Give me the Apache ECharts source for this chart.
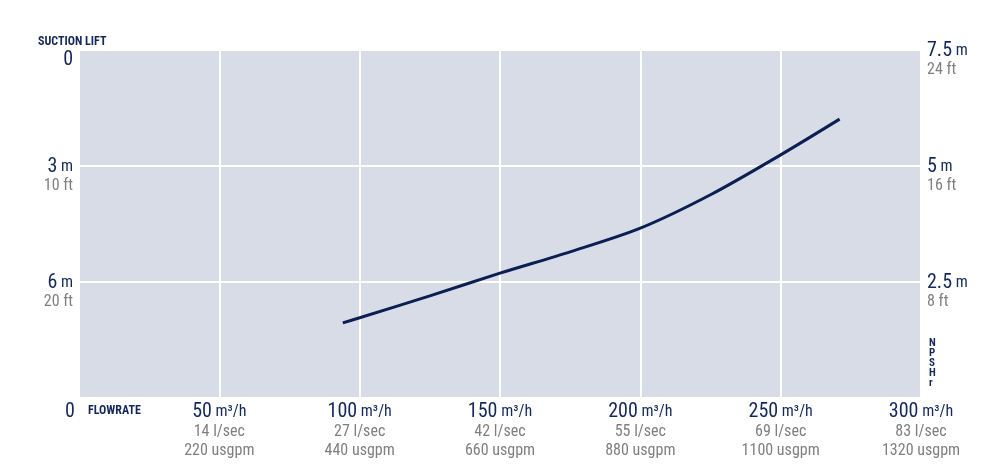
<!DOCTYPE html>
<html><head><meta charset="utf-8">
<script src="https://cdn.jsdelivr.net/npm/echarts@6/dist/echarts.min.js"></script>
<style>html,body{margin:0;padding:0;background:#fff}#c{width:1000px;height:469px}</style>
</head><body><div id="c"></div>
<script>
// Flowrate ticks (m3/h) and their equivalents
var flowTicks = [0, 50, 100, 150, 200, 250, 300];
var flowLsec = ['', '14 l/sec', '27 l/sec', '42 l/sec', '55 l/sec', '69 l/sec', '83 l/sec'];
var flowUsgpm = ['', '220 usgpm', '440 usgpm', '660 usgpm', '880 usgpm', '1100 usgpm', '1320 usgpm'];
// Suction lift (left, inverted) ticks
var liftTicks = [0, 3, 6, 9];
var liftM = ['0', '3', '6', ''];
var liftFt = ['', '10 ft', '20 ft', ''];
// NPSHr (right) ticks
var npshTicks = [0, 2.5, 5, 7.5];
var npshM = ['', '2.5', '5', '7.5'];
var npshFt = ['', '8 ft', '16 ft', '24 ft'];
// NPSHr curve: flowrate (m3/h) vs NPSHr (m)
var curveFlow = [94, 100, 125, 150, 175, 200, 225, 250, 271];
var curveNpsh = [1.62, 1.73, 2.2, 2.69, 3.15, 3.66, 4.38, 5.24, 6.01];

var NAVY = '#14285a', GREY = '#7f7f7f';
var FONT = "'Roboto Condensed', 'Liberation Sans', Arial, sans-serif";
var rich = {
  a: {fontSize: 20, color: NAVY, fontFamily: FONT, lineHeight: 20},
  u: {fontSize: 16, color: NAVY, fontFamily: FONT, lineHeight: 20},
  g: {fontSize: 16, color: GREY, fontFamily: FONT, lineHeight: 19},
  z: {fontSize: 20, color: NAVY, fontFamily: FONT, lineHeight: 20, padding: [0, 18, 0, 0]}
};
var chart = echarts.init(document.getElementById('c'));
chart.setOption({
  animation: false,
  grid: {left: 79, right: 79, top: 50, bottom: 71, show: true, backgroundColor: '#d8dce6', borderWidth: 0},
  xAxis: {
    type: 'value', min: 0, max: 300, interval: 50,
    axisLine: {show: false}, axisTick: {show: false},
    splitLine: {show: true, lineStyle: {color: '#ffffff', width: 2}},
    axisLabel: {
      margin: 4, rich: rich, showMaxLabel: true, showMinLabel: true,
      formatter: function (v) {
        var i = flowTicks.indexOf(v);
        if (i === 0) return '{z|0}';
        return '{a|' + v + '}{u| m³/h}\n{g|' + flowLsec[i] + '}\n{g|' + flowUsgpm[i] + '}';
      }
    }
  },
  yAxis: [{
    type: 'value', inverse: true, min: 0, max: 9, interval: 3,
    axisLine: {show: false}, axisTick: {show: false},
    splitLine: {show: true, lineStyle: {color: '#ffffff', width: 2}},
    axisLabel: {
      margin: 6, rich: rich, padding: [20, 0, 0, 0], align: 'right',
      formatter: function (v) {
        var i = liftTicks.indexOf(v);
        if (i < 0 || liftM[i] === '') return '';
        if (liftFt[i] === '') return '{a|' + liftM[i] + '}';
        return '{a|' + liftM[i] + '}{u| m}\n{g|' + liftFt[i] + '}';
      }
    }
  }, {
    type: 'value', min: 0, max: 7.5, interval: 2.5, position: 'right',
    axisLine: {show: false}, axisTick: {show: false}, splitLine: {show: false},
    axisLabel: {
      margin: 6, rich: rich, padding: [20, 0, 0, 0], align: 'left',
      formatter: function (v) {
        var i = npshTicks.indexOf(v);
        if (i < 0 || npshM[i] === '') return '';
        return '{a|' + npshM[i] + '}{u| m}\n{g|' + npshFt[i] + '}';
      }
    }
  }],
  graphic: [
    {type: 'text', left: 38, top: 36, style: {text: 'SUCTION LIFT', fill: NAVY, font: "bold 12px 'Roboto Condensed', Arial, sans-serif"}},
    {type: 'text', left: 88, top: 405, style: {text: 'FLOWRATE', fill: NAVY, font: "bold 12px 'Roboto Condensed', Arial, sans-serif"}},
    {type: 'text', left: 929, top: 338, style: {text: 'N\nP\nS\nH\nr', fill: NAVY, lineHeight: 10, font: "bold 11px 'Roboto Condensed', Arial, sans-serif"}}
  ],
  series: [{
    type: 'line', yAxisIndex: 1, smooth: 0.3, showSymbol: false,
    lineStyle: {color: '#0c1f52', width: 3},
    data: curveFlow.map(function (x, i) { return [x, curveNpsh[i]]; })
  }]
});
</script></body></html>
